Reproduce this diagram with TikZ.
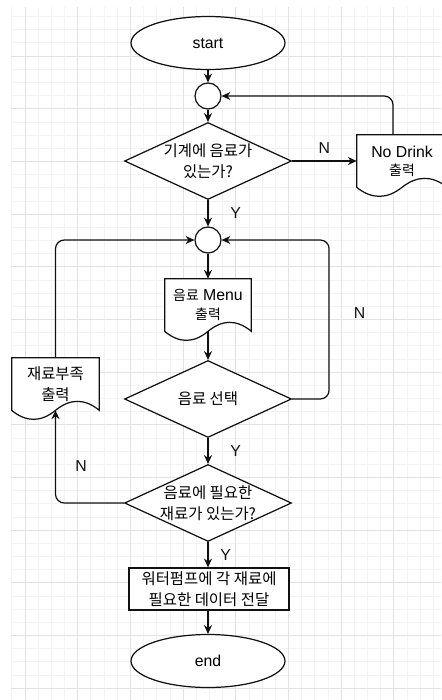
\documentclass[tikz,border=0pt]{standalone}
\usepackage{fontspec}
\setmainfont{Liberation Sans}
\newfontfamily\kr[Scale=0.88]{Noto Sans CJK KR}
\usepackage{tikz}
\usetikzlibrary{arrows.meta,positioning,shapes.geometric,calc}
\definecolor{ink}{HTML}{111111}
\definecolor{gridmaj}{HTML}{E2E2E2}
\definecolor{gridmin}{HTML}{F3F3F3}
\tikzset{
  outline/.style={draw=ink, line width=0.7pt, fill=white},
  termbox/.style={
    ellipse, outline,
    minimum width=3.08cm, minimum height=1.06cm,
    inner sep=0pt
  },
  joinbox/.style={
    circle, outline, minimum size=0.52cm, inner sep=0pt
  },
  decbox/.style={
    diamond, outline, aspect=2.17,
    minimum width=3.34cm, minimum height=1.54cm,
    inner xsep=-6pt, inner ysep=-4pt,
    align=center, font=\kr
  },
  procbox/.style={
    rectangle, outline,
    minimum width=3.2cm, minimum height=0.8cm,
    inner sep=2pt, align=center, font=\kr
  },
  % page with a wavy foot
  docbox/.style={
    rectangle,
    minimum width=#1, minimum height=1.04cm,
    inner sep=1pt, align=center,
    append after command={\pgfextra{
      \draw[outline] (\tikzlastnode.south east) -- (\tikzlastnode.north east)
        -- (\tikzlastnode.north west) -- (\tikzlastnode.south west)
        .. controls ($(\tikzlastnode.south)!0.667!(\tikzlastnode.south west)+(0,-0.24cm)$)
        and ($(\tikzlastnode.south)!0.333!(\tikzlastnode.south west)+(0,-0.24cm)$)
        .. (\tikzlastnode.south)
        .. controls ($(\tikzlastnode.south)!0.333!(\tikzlastnode.south east)+(0,0.24cm)$)
        and ($(\tikzlastnode.south)!0.667!(\tikzlastnode.south east)+(0,0.24cm)$)
        .. (\tikzlastnode.south east) -- cycle;}}
  },
  docbox/.default=1.72cm,
  flowarrow/.style={
    -{Stealth[length=5pt, width=4.6pt]}, draw=ink, line width=0.7pt,
    rounded corners=5pt
  },
  yesno/.style={inner sep=1pt, text=ink},
}

\begin{document}
\begin{tikzpicture}[x=0.02cm, y=-0.02cm, font=\fontsize{9}{10.4}\selectfont]
  \useasboundingbox (0,0) rectangle (441,700);

  % background grid
  \foreach \i in {0,...,32}
    \draw[gridmin, line width=0.4pt] ({11.83+13.17*\i},7) -- ({11.83+13.17*\i},700);
  \foreach \i in {0,...,51}
    \draw[gridmin, line width=0.4pt] (11,{16.5+13.17*\i}) -- (441,{16.5+13.17*\i});
  \foreach \i in {0,...,7}
    \draw[gridmaj, line width=0.5pt] ({25+52.67*\i},7) -- ({25+52.67*\i},700);
  \foreach \i in {0,...,12}
    \draw[gridmaj, line width=0.5pt] (11,{56+52.67*\i}) -- (441,{56+52.67*\i});

  % Main column
  \node[termbox] (st) at (208,43) {start};
  \node[joinbox] (c1) at (208,96) {};
  \node[decbox] (d1) at (208,161) {기계에 음료가\\있는가?};
  \node[docbox=1.8cm] (nd) at (402,161) {No Drink\\{\kr 출력}};
  \node[joinbox] (c2) at (208,240) {};
  \node[docbox] (mn) at (208,305) {{\kr 음료} Menu\\{\kr 출력}};
  \node[decbox] (d2) at (208,399) {음료 선택};
  \node[docbox=1.74cm, font=\kr] (sh) at (55.5,384) {재료부족\\출력};
  \node[decbox] (d3) at (208,503) {음료에 필요한\\재료가 있는가?};
  \node[procbox] (pm) at (209,589) {워터펌프에 각 재료에\\필요한 데이터 전달};
  \node[termbox] (en) at (208,661) {end};

  % Connectors
  \draw[flowarrow] (st) -- (c1);
  \draw[flowarrow] (c1) -- (d1);
  \draw[flowarrow] (d1.east) -- node[yesno, above=3pt] {N} (nd.west);
  \draw[flowarrow] ([xshift=-0.18cm]nd.north) |- (c1.east);
  \draw[flowarrow] (d1.south) -- node[yesno, right=0.4cm] {Y} (c2.north);
  \draw[flowarrow] (c2) -- (mn);
  \draw[flowarrow] (mn.south) -- (d2.north);
  \draw[flowarrow] (d2.east) -- ++(37,0) |- node[yesno, pos=0.27, right=0.45cm] {N} (c2.east);
  \draw[flowarrow] (sh.north) |- (c2.west);
  \draw[flowarrow] (d2.south) -- node[yesno, right=0.4cm] {Y} (d3.north);
  \draw[flowarrow] (d3.west) -| node[yesno, pos=0.7, right=0.35cm] {N} (sh.south);
  \draw[flowarrow] (d3.south) -- node[yesno, right=0.2cm] {Y} (d3.south |- pm.north);
  \draw[flowarrow] (pm.south -| en.north) -- (en);
\end{tikzpicture}
\end{document}
